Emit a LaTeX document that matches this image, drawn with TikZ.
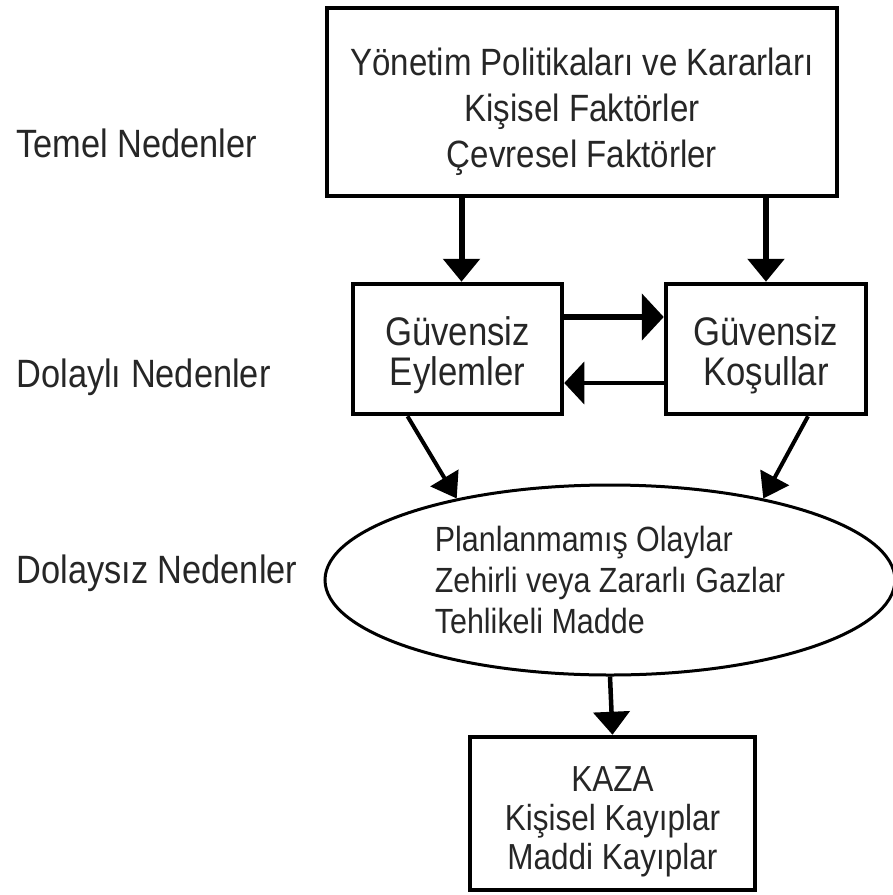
\documentclass[tikz,border=0pt]{standalone}
\usepackage{fontspec}
\setmainfont{Liberation Sans}[FakeStretch=0.87]
\usepackage{tikz}
\usetikzlibrary{arrows.meta,positioning,shapes.geometric}
\definecolor{inkgray}{HTML}{262626}
% pushes a box text down by making its first line taller
\newcommand{\toplift}[1]{\rule{0pt}{#1}}

\begin{document}
\begin{tikzpicture}[x=1pt,y=-1pt,
  font=\fontsize{38}{46}\selectfont, text=inkgray,
  causebox/.style={draw,line width=4.5pt,align=center,inner sep=0pt},
  levellabel/.style={anchor=west,font=\fontsize{39.5}{46}\selectfont},
  bigarrow/.style={line width=6pt,-{Triangle[length=23pt,width=36pt]}},
  smallarrow/.style={line width=4pt,-{Triangle[length=24pt,width=32pt]}}]
\useasboundingbox (0,0) rectangle (893,895);
% level labels
\node[levellabel] (temel) at (13,143) {Temel Nedenler};
\node[levellabel] (dolayli) at (13,377) {Dolaylı Nedenler};
\node[levellabel] (dolaysiz) at (13,573) {Dolaysız Nedenler};

% boxes
\node[causebox,minimum width=510pt,minimum height=188pt] (yonetim) at (582,102)
  {\toplift{48pt}Yönetim Politikaları ve Kararları\\Kişisel Faktörler\\Çevresel Faktörler};
\node[causebox,minimum width=209pt,minimum height=130pt,
      font=\fontsize{39.9}{40}\selectfont] (eylem) at (457.5,349)
  {\toplift{41pt}Güvensiz\\Eylemler};
\node[causebox,minimum width=200pt,minimum height=130pt,
      font=\fontsize{39.9}{40}\selectfont] (kosul) at (766,349)
  {\toplift{41pt}Güvensiz\\Koşullar};
\node[draw,ellipse,line width=3pt,minimum width=570pt,minimum height=190pt,
      align=left,inner sep=0pt,font=\fontsize{35}{41}\selectfont] (olay) at (610,580)
  {Planlanmamış Olaylar\\Zehirli veya Zararlı Gazlar\\Tehlikeli Madde};
\node[causebox,minimum width=285pt,minimum height=153pt,
      font=\fontsize{36.2}{39}\selectfont] (kaza) at (612.5,813.5)
  {\toplift{42pt}KAZA\\Kişisel Kayıplar\\Maddi Kayıplar};

% arrows
\draw[bigarrow] ([xshift=4pt]yonetim.south -| eylem.north) -- ([xshift=4pt]eylem.north);
\draw[bigarrow] (yonetim.south -| kosul.north) -- (kosul.north);
\draw[bigarrow,-{Triangle[length=22pt,width=46pt]}]
  ([yshift=32pt]eylem.east) -- ([yshift=32pt]kosul.west);
\draw[smallarrow,-{Triangle[length=20pt,width=42pt]}]
  ([yshift=-34pt]kosul.west) -- ([yshift=-34pt]eylem.east);
\draw[smallarrow] ([xshift=-50pt]eylem.south) -- (olay.152);
\draw[smallarrow] ([xshift=42pt]kosul.south) -- (olay.28);
\draw[bigarrow,line width=4.5pt] (olay.south) -- (kaza.north);
\end{tikzpicture}
\end{document}
